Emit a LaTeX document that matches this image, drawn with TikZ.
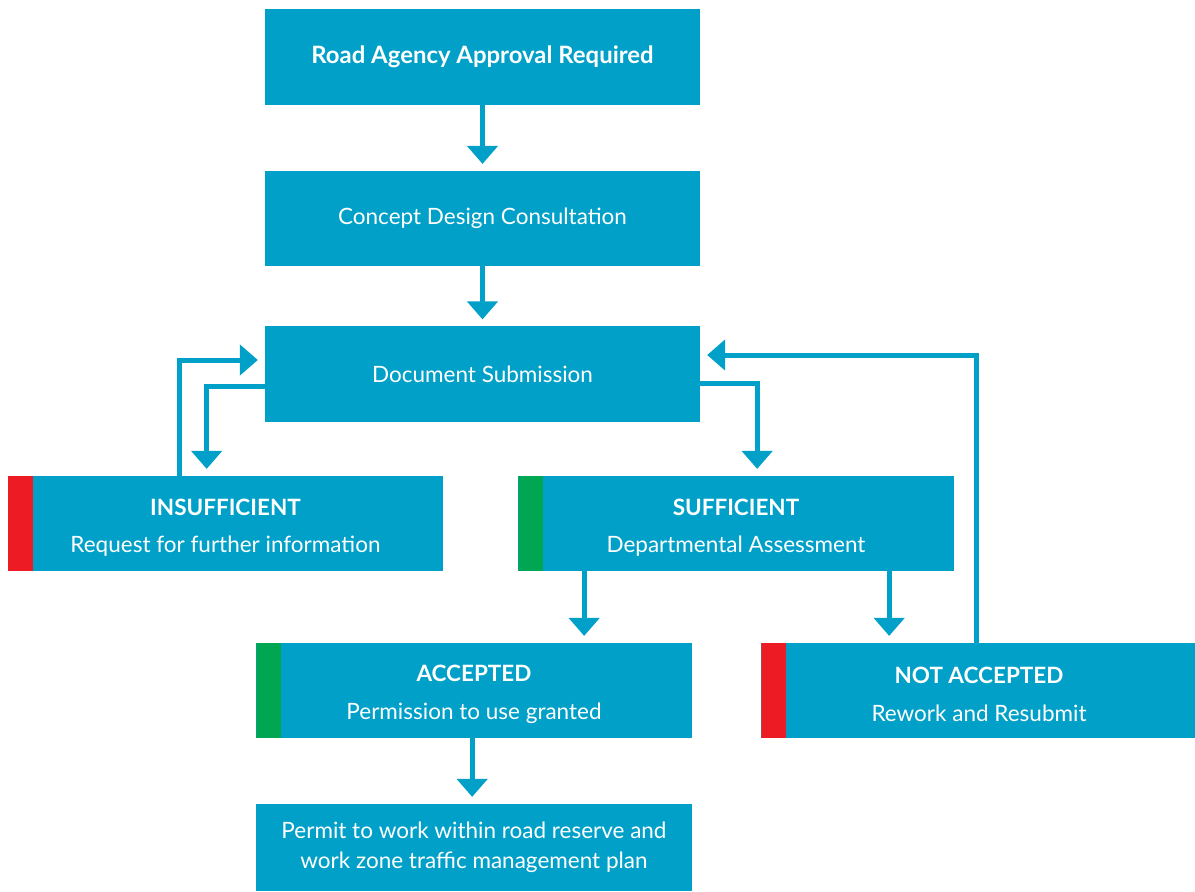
\documentclass[tikz,border=0pt]{standalone}
\usepackage{fontspec}
\setmainfont{Lato}
\usetikzlibrary{arrows.meta,calc}
\definecolor{boxblue}{RGB}{0,160,200}
\definecolor{flagred}{RGB}{237,28,36}
\definecolor{flaggreen}{RGB}{0,166,81}
\tikzset{
    % Boxes
    box/.style={
        rectangle,
        fill=boxblue,
        text=white,
        minimum width=10.875cm,
        minimum height=2.375cm,
        inner sep=0pt,
        align=center,
        font=\fontsize{16}{27}\selectfont
    },
    flagbox/.style={
        box,
        text height=1.57cm,
        path picture={
            \fill[#1] (path picture bounding box.north west) rectangle
                ($(path picture bounding box.south west)+(25,0)$);
        }
    },
    % Arrows
    flow/.style={
        -{Triangle[width=0.75cm,length=0.45cm]},
        line width=0.125cm,
        draw=boxblue,
        shorten >=0.17cm
    }
}
\begin{document}
\begin{tikzpicture}[x=0.025cm, y=-0.025cm]
    \useasboundingbox (0,0) rectangle (1195,892);

    % Main column
    \node[box, font=\fontsize{17}{27}\selectfont] (road) at (482.5,57) {\textbf{Road Agency Approval Required}};
    \node[box] (concept) at (482.5,218.5) {Concept Design Consultation};
    \node[box] (doc) at (482.5,374) {Document Submission};

    % Assessment outcome
    \node[flagbox=flagred] (insuf) at (225.5,523.5) {\textbf{INSUFFICIENT}\\Request for further information};
    \node[flagbox=flaggreen] (suff) at (736,523.5) {\textbf{SUFFICIENT}\\Departmental Assessment};

    % Decision
    \node[flagbox=flaggreen] (acc) at (474,690.5) {\textbf{ACCEPTED}\\Permission to use granted};
    \node[flagbox=flagred] (notacc) at (979,690.5) {\textbf{NOT ACCEPTED}\\Rework and Resubmit};

    % Permit
    \node[box, minimum height=2.175cm, font=\fontsize{16}{21}\selectfont] (permit) at (474,847.5) {Permit to work within road reserve and\\work zone traffic management plan};

    % Arrows - main flow
    \draw[flow] (road) -- (concept);
    \draw[flow] (concept) -- (doc);

    % Submission loop
    \draw[flow] ($(doc.west)+(0,12)$) -| ($(insuf.north west)+(199,0)$);
    \draw[flow] ($(insuf.north west)+(172,0)$) |- ($(doc.west)+(0,-14)$);
    \draw[flow] ($(doc.east)+(0,9)$) -| ($(suff.north west)+(239,0)$);

    % Assessment
    \draw[flow] ($(suff.south west)+(66,0)$) -- ($(acc.north west)+(328,0)$);
    \draw[flow] ($(suff.south west)+(371,0)$) -- ($(notacc.north west)+(128,0)$);
    \draw[flow] ($(notacc.north west)+(215,0)$) |- ($(doc.east)+(0,-19)$);
    \draw[flow] ($(acc.south west)+(216,0)$) -- ($(permit.north west)+(216,0)$);

\end{tikzpicture}
\end{document}
